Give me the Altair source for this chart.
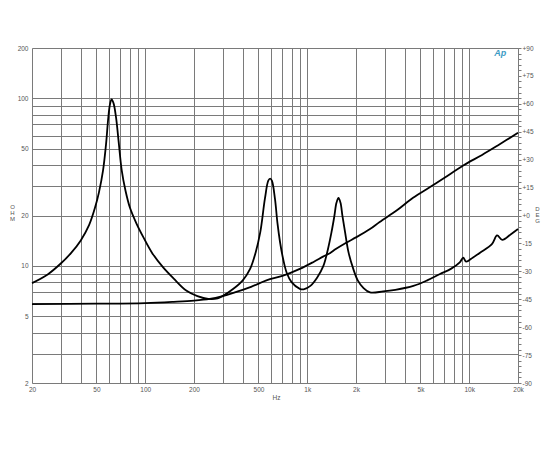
import altair as alt
import pandas as pd

# Impedance curve with resonance peaks (Hz, ohm)
freq_a = [20, 25, 30, 35, 40, 45, 49, 51.8, 54.9, 57.2, 59.2, 60.6, 62, 63.7, 66, 68.4, 71.6, 75.5, 80.4, 88.3,
          97.5, 110, 129, 150, 180, 210, 245, 280, 300, 350, 400, 444, 480, 513, 548, 575, 590, 605,
          632, 655, 680, 710, 747, 800, 900, 950, 1046, 1150, 1258, 1340, 1412, 1470, 1515, 1560, 1605, 1650,
          1712, 1800, 1924, 2050, 2220, 2440, 2940, 3500, 4520, 5500, 6600, 7700, 8740, 9180, 9560,
          10500, 11660, 13800, 14860, 16000, 18000, 20000]
ohm_a = [7.9, 8.9, 10.3, 12.0, 14.2, 17.5, 22.3, 27.5, 37.2, 52.5, 77.3, 92.4, 98.5, 93.7, 77.3, 56.2, 37.2, 28.2, 22.3, 17.9,
         14.8, 12.0, 9.8, 8.4, 7.1, 6.6, 6.35, 6.4, 6.6, 7.3, 8.2, 9.6, 12, 15.9, 25.2, 32.3, 33.2, 32.3,
         25.2, 18, 13.8, 11, 9.1, 8.0, 7.3, 7.25, 7.6, 8.5, 10, 12.5, 15.9, 19.8, 23.8, 25.5, 23.8, 19.8,
         15.9, 12, 9.6, 8.2, 7.4, 6.95, 7.04, 7.2, 7.6, 8.2, 8.95, 9.6, 10.5, 11.2, 10.6,
         11.2, 12.0, 13.5, 15.2, 14.3, 15.4, 16.6]

# Rising curve (Hz, ohm)
freq_b = [20, 50, 100, 150, 200, 250, 300, 350, 450, 560, 710, 900, 1100, 1260, 1380, 1500, 1750,
          2000, 2440, 2800, 3560, 4500, 5700, 7000, 9180, 12000, 15000, 20000]
ohm_b = [5.92, 5.95, 6.0, 6.1, 6.2, 6.35, 6.6, 6.9, 7.5, 8.2, 8.75, 9.6, 10.6, 11.4, 11.9, 12.6, 13.8,
         14.8, 16.6, 18.3, 21.4, 25.5, 29.5, 33.5, 39.8, 46, 52.4, 62.3]

x_grid = [20, 30, 40, 50, 60, 70, 80, 90, 100, 200, 300, 400, 500, 600, 700, 800, 900, 1000,
          2000, 3000, 4000, 5000, 6000, 7000, 8000, 9000, 10000, 20000]
y_grid = [2, 3, 4, 5, 6, 7, 8, 9, 10, 20, 30, 40, 50, 60, 70, 80, 90, 100, 200]
deg_ticks = list(range(-90, 91, 3))

df = pd.concat([
    pd.DataFrame({"freq": freq_a, "ohm": ohm_a, "series": "A"}),
    pd.DataFrame({"freq": freq_b, "ohm": ohm_b, "series": "B"}),
])
df_deg = pd.DataFrame({"deg": [-90, 90]})

GRID = "#7a7a7a"
LBL = "#555555"
FONT = "Liberation Sans"

lines = alt.Chart(df).mark_line(color="black", strokeWidth=1.8, interpolate="catmull-rom").encode(
    x=alt.X("freq:Q", scale=alt.Scale(type="log", domain=[20, 20000], nice=False),
            axis=alt.Axis(values=x_grid, grid=True, gridColor=GRID, gridWidth=1, gridOpacity=1,
                          domain=False, ticks=False, labelOverlap=False, labelFlush=False,
                          labelExpr="indexof([20,50,100,200,500], datum.value) >= 0 ? format(datum.value,'d') : indexof([1000,2000,5000,10000,20000], datum.value) >= 0 ? format(datum.value/1000,'d') + 'k' : ''",
                          labelFontSize=6.5, labelColor=LBL, labelFont=FONT, labelPadding=3,
                          title="Hz", titleFontSize=6.5, titleFontWeight="normal", titleColor=LBL,
                          titleFont=FONT, titleX=244, titleY=14, titleAlign="center",
                          titleBaseline="middle")),
    y=alt.Y("ohm:Q", scale=alt.Scale(type="log", domain=[2, 200], nice=False),
            axis=alt.Axis(values=y_grid, grid=True, gridColor=GRID, gridWidth=1, gridOpacity=1,
                          domain=False, ticks=False, labelOverlap=False, labelFlush=False,
                          labelExpr="indexof([2,5,10,20,50,100,200], datum.value) >= 0 ? format(datum.value,'d') : ''",
                          labelFontSize=6.5, labelColor=LBL, labelFont=FONT, labelPadding=4,
                          title=["O", "H", "M"], titleAngle=0, titleFontSize=6,
                          titleFontWeight="normal", titleColor=LBL, titleFont=FONT,
                          titleLineHeight=6, titleX=-20, titleY=155, titleAlign="center",
                          titleBaseline="top")),
    detail="series:N",
)

right_axis = alt.Chart(df_deg).mark_point(opacity=0).encode(
    y=alt.Y("deg:Q", scale=alt.Scale(domain=[-90, 90], nice=False),
            axis=alt.Axis(orient="right", values=deg_ticks, grid=False, domain=True,
                          domainColor=GRID, domainWidth=1, ticks=True, tickColor=GRID,
                          tickSize=3, labelOverlap=False, labelFlush=False,
                          labelExpr="datum.value % 15 == 0 ? (datum.value > 0 ? '+' + datum.value : (datum.value == 0 ? '+0' : '' + datum.value)) : ''",
                          labelFontSize=6.5, labelColor=LBL, labelFont=FONT, labelPadding=1,
                          title=["D", "E", "G"], titleAngle=0, titleFontSize=6,
                          titleFontWeight="normal", titleColor=LBL, titleFont=FONT,
                          titleLineHeight=6, titleX=19, titleY=157, titleAlign="center",
                          titleBaseline="top")),
)

chart = alt.layer(lines, right_axis).resolve_scale(y="independent").properties(
    width=486, height=335,
    autosize=alt.AutoSizeParams(type="none"),
    padding={"left": 24, "top": 40, "right": 24, "bottom": 40},
    title=alt.TitleParams(text="Ap", anchor="end", color="#3d9bc4", fontStyle="italic",
                          fontWeight="bold", fontSize=9, font=FONT, offset=-13, dx=-33),
).configure_view(stroke=None).configure(background="white")

chart.save("out.html", embed_options={"renderer": "svg", "actions": False})
